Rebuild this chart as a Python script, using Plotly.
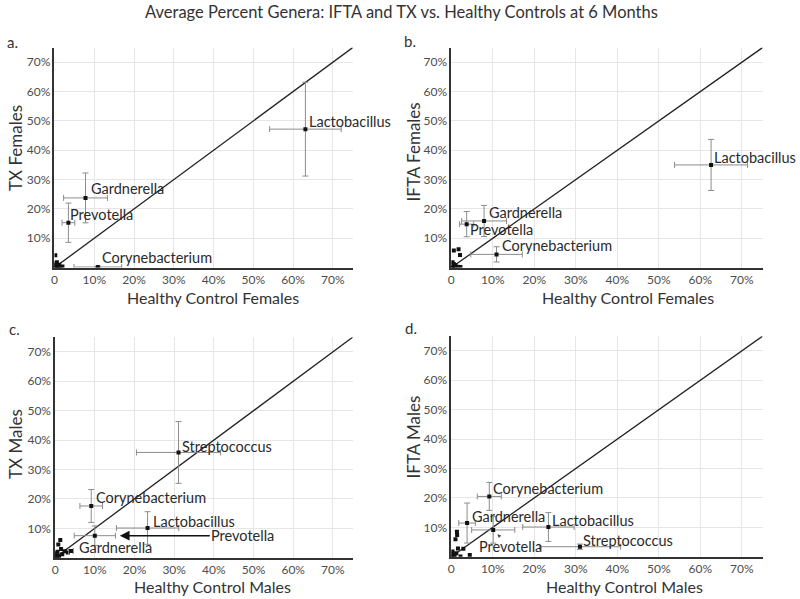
import plotly.graph_objects as go

# ---------------- data (percent) ----------------
# Panel a: TX Females vs Healthy Control Females
a_names = ["Lactobacillus", "Gardnerella", "Prevotella", "Corynebacterium"]
a_x = [63.1, 7.8, 3.5, 10.9]
a_y = [47.2, 23.75, 15.3, 0.2]
a_ex = [9.0, 5.5, 1.6, 6.0]
a_ey = [16.0, 8.5, 6.7, 0.2]
a_other_x = [0.2, 0.3, 0.5, 0.8, 1.0, 0.4, 1.5, 2.0, 0.2, 0.6, 1.2, 0.1]
a_other_y = [4.2, 1.5, 1.0, 0.6, 0.3, 0.2, 0.2, 0.4, 0.8, 1.8, 1.0, 0.1]

# Panel b: IFTA Females vs Healthy Control Females
b_names = ["Lactobacillus", "Gardnerella", "Prevotella", "Corynebacterium"]
b_x = [62.6, 7.9, 3.7, 10.9]
b_y = [35.0, 15.9, 14.8, 4.5]
b_ex = [8.8, 5.4, 1.7, 6.2]
b_ey = [8.7, 5.3, 4.3, 2.6]
b_other_x = [0.6, 1.75, 2.1, 0.3, 0.6, 1.0, 0.4, 1.5, 2.2, 0.2, 0.8]
b_other_y = [5.8, 6.25, 4.3, 1.8, 1.2, 0.8, 0.4, 0.3, 0.2, 0.1, 0.2]

# Panel c: TX Males vs Healthy Control Males
c_names = ["Streptococcus", "Corynebacterium", "Lactobacillus", "Prevotella", "Gardnerella"]
c_x = [31.1, 9.1, 23.3, 10.0, 4.0]
c_y = [35.8, 17.6, 10.1, 7.5, 2.3]
c_ex = [10.6, 2.85, 7.85, 5.2, 0.6]
c_ey = [10.5, 5.6, 5.55, 3.3, 0.5]
c_other_x = [1.3, 0.8, 1.5, 2.5, 3.2, 0.3, 0.5, 0.2, 1.0, 1.8, 0.6]
c_other_y = [6.0, 4.5, 3.0, 2.2, 1.8, 1.5, 0.8, 0.3, 0.5, 1.2, 2.0]

# Panel d: IFTA Males vs Healthy Control Males
d_names = ["Corynebacterium", "Gardnerella", "Prevotella", "Lactobacillus", "Streptococcus"]
d_x = [9.15, 3.8, 10.1, 23.4, 31.0]
d_y = [20.5, 11.45, 9.1, 10.1, 3.4]
d_ex = [2.9, 2.0, 5.2, 6.2, 9.8]
d_ey = [4.75, 6.8, 4.5, 4.9, 0.9]
d_other_x = [1.35, 1.4, 1.0, 2.9, 1.6, 4.45, 2.2, 0.3, 0.5, 0.2, 0.8, 1.2]
d_other_y = [8.5, 7.4, 5.9, 2.7, 2.8, 0.6, 0.1, 1.8, 0.8, 0.3, 0.4, 1.2]

tick_vals = [0, 10, 20, 30, 40, 50, 60, 70]
x_tick_text = ["0", "10%", "20%", "30%", "40%", "50%", "60%", "70%"]
y_tick_vals = [10, 20, 30, 40, 50, 60, 70]
y_tick_text = ["10%", "20%", "30%", "40%", "50%", "60%", "70%"]
diag = [0, 75]

panel_letters = ["a.", "b.", "c.", "d."]
x_titles = ["Healthy Control Females", "Healthy Control Females",
            "Healthy Control Males", "Healthy Control Males"]
y_titles = ["TX Females", "IFTA Females", "TX Males", "IFTA Males"]
title_text = "Average Percent Genera: IFTA and TX vs. Healthy Controls at 6 Months"

# ---------------- styling ----------------
FONT = "Lato, 'Open Sans', sans-serif"
ERR_COL = "#8c8c8c"
PT_COL = "#111111"

# label offsets in pixels (dx, dy upward)
a_off = [(2, 8), (3, 9), (0, 8), (2, 9)]
b_off = [(1, 7), (3, 8), (1, -5), (3, 9)]
c_off = [(1, 6), (3, 8), (3, 7), None, (6, 3)]
d_off = [(2, 8), (3, 7), None, (2, 7), (1, 6)]

panels = [
    (a_names, a_x, a_y, a_ex, a_ey, a_other_x, a_other_y, a_off),
    (b_names, b_x, b_y, b_ex, b_ey, b_other_x, b_other_y, b_off),
    (c_names, c_x, c_y, c_ex, c_ey, c_other_x, c_other_y, c_off),
    (d_names, d_x, d_y, d_ex, d_ey, d_other_x, d_other_y, d_off),
]

x_domains = [[0.0646, 0.4388], [0.5625, 0.953], [0.0654, 0.4388], [0.5625, 0.953]]
y_domains = [[0.5533, 0.9205], [0.5533, 0.9205], [0.0689, 0.4371], [0.0706, 0.4388]]

fig = go.Figure()
annotations = []

for i, (names, xs, ys, exs, eys, ox, oy, offs) in enumerate(panels):
    suffix = "" if i == 0 else str(i + 1)
    xa, ya = "x" + suffix, "y" + suffix
    # diagonal
    fig.add_trace(go.Scatter(x=diag, y=diag, mode="lines", xaxis=xa, yaxis=ya,
                             line=dict(color="#222222", width=1.3),
                             showlegend=False, hoverinfo="skip"))
    # other genera
    fig.add_trace(go.Scatter(x=ox, y=oy, mode="markers", xaxis=xa, yaxis=ya,
                             marker=dict(symbol="square", size=4, color=PT_COL),
                             showlegend=False))
    # labelled genera with error bars
    fig.add_trace(go.Scatter(x=xs, y=ys, mode="markers", xaxis=xa, yaxis=ya,
                             text=names,
                             marker=dict(symbol="square", size=4, color=PT_COL),
                             error_x=dict(type="data", array=exs, color=ERR_COL,
                                          thickness=1, width=3),
                             error_y=dict(type="data", array=eys, color=ERR_COL,
                                          thickness=1, width=3),
                             showlegend=False))
    for name, px, py, off in zip(names, xs, ys, offs):
        if off is None:
            continue
        annotations.append(dict(x=px, y=py, xref=xa, yref=ya, text=name,
                                showarrow=False, xanchor="left", yanchor="middle",
                                xshift=off[0], yshift=off[1],
                                font=dict(family=FONT, size=14.5, color="#2a2a2a")))

    fig.layout["xaxis" + suffix] = dict(
        domain=x_domains[i], range=[0, 75], anchor=ya,
        tickvals=tick_vals, ticktext=x_tick_text,
        showline=True, linecolor="#333333", linewidth=1.5,
        showgrid=True, gridcolor="#e6e6e6", gridwidth=1,
        zeroline=False, ticks="", fixedrange=True,
        tickfont=dict(family=FONT, size=12, color="#4d4d4d"))
    fig.layout["yaxis" + suffix] = dict(
        domain=y_domains[i], range=[0, 75], anchor=xa,
        tickvals=y_tick_vals, ticktext=y_tick_text,
        showline=True, linecolor="#333333", linewidth=1.5,
        showgrid=True, gridcolor="#e6e6e6", gridwidth=1,
        zeroline=False, ticks="", fixedrange=True,
        tickfont=dict(family=FONT, size=12, color="#4d4d4d"))

# Prevotella arrow in panel c
pc = c_names.index("Prevotella")
annotations.append(dict(x=c_x[pc], y=c_y[pc], xref="x3", yref="y3",
                        text="Prevotella", showarrow=True,
                        ax=148, ay=0, standoff=25,
                        arrowhead=2, arrowsize=1.3, arrowwidth=1.5,
                        arrowcolor="#111111",
                        font=dict(family=FONT, size=14.5, color="#2a2a2a")))
# Prevotella small arrow in panel d
pd_ = d_names.index("Prevotella")
annotations.append(dict(x=d_x[pd_], y=d_y[pd_], xref="x4", yref="y4",
                        text="Prevotella", showarrow=True,
                        ax=17, ay=17, standoff=6,
                        arrowhead=2, arrowsize=0.7, arrowwidth=1,
                        arrowcolor="#444444",
                        font=dict(family=FONT, size=14.5, color="#2a2a2a")))

# title
annotations.append(dict(x=0.5, y=1 - 12 / 599, xref="paper", yref="paper",
                        text=title_text, showarrow=False,
                        xanchor="center", yanchor="middle",
                        font=dict(family=FONT, size=16.5, color="#333333")))

letter_pos = [(10, 42), (409, 41), (12, 329), (410, 328)]
xt_pos = [(211, 297), (627, 297), (210, 586), (624, 586)]
yt_pos = [(12, 148), (412, 152), (12, 444), (412, 437)]
for i in range(4):
    lx, ly = letter_pos[i]
    annotations.append(dict(x=lx / 800, y=1 - ly / 599, xref="paper", yref="paper",
                            text=panel_letters[i], showarrow=False,
                            xanchor="center", yanchor="middle",
                            font=dict(family=FONT, size=15, color="#333333")))
    tx, ty = xt_pos[i]
    annotations.append(dict(x=tx / 800, y=1 - ty / 599, xref="paper", yref="paper",
                            text=x_titles[i], showarrow=False,
                            xanchor="center", yanchor="middle",
                            font=dict(family=FONT, size=16, color="#333333")))
    sx, sy = yt_pos[i]
    annotations.append(dict(x=sx / 800, y=1 - sy / 599, xref="paper", yref="paper",
                            text=y_titles[i], showarrow=False, textangle=-90,
                            xanchor="center", yanchor="middle",
                            font=dict(family=FONT, size=17, color="#333333")))

fig.update_layout(width=800, height=599, margin=dict(l=0, r=0, t=0, b=0),
                  paper_bgcolor="white", plot_bgcolor="white",
                  annotations=annotations, showlegend=False,
                  font=dict(family=FONT))

fig.write_html("out.html", config={"displayModeBar": False},
               post_script="document.body.style.margin='0';document.body.style.overflow='hidden';")
